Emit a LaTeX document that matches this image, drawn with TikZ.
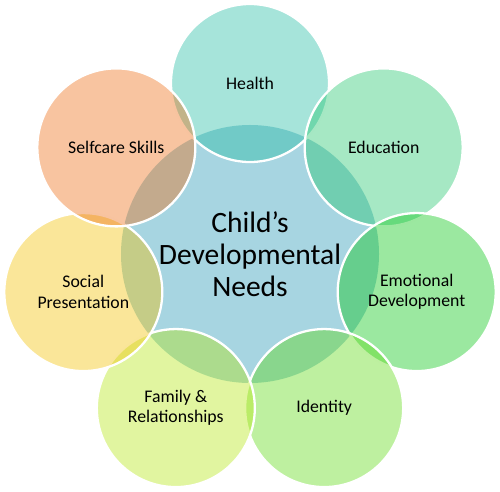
\documentclass[tikz,border=0pt]{standalone}
\usepackage{fontspec}
\setmainfont{Carlito}
\usetikzlibrary{positioning}

\definecolor{needblue}{RGB}{167,213,225}
\definecolor{healthc}{RGB}{32,187,162}
\definecolor{educc}{RGB}{32,197,107}
\definecolor{emoc}{RGB}{5,197,17}
\definecolor{identc}{RGB}{92,217,17}
\definecolor{famc}{RGB}{180,230,17}
\definecolor{socc}{RGB}{242,192,0}
\definecolor{selfc}{RGB}{237,107,17}

\tikzset{
  needs/.style={circle, minimum size=3.16cm, inner sep=0pt, draw=white, line width=1.3pt,
    fill opacity=0.4, text opacity=1, align=center, font=\fontsize{10.1}{11.6}\selectfont},
  hub/.style={circle, minimum size=5.16cm, inner sep=0pt, fill=needblue, align=center,
    font=\fontsize{16.8}{18.3}\selectfont}
}

\begin{document}
\begin{tikzpicture}
			%%%%% START %%%%%
			\useasboundingbox (-5, -4.74) rectangle (5, 5.08);
			
			\node[hub] (child) at (0, 0) {Child’s\\Developmental\\Needs};
			
			\node[needs, fill=healthc] (health) at (90:3.42) {Health};
			\node[needs, fill=educc] (education) at (38.57:3.42) {Education};
			\node[needs, fill=emoc] (emotional) at (-12.86:3.42) {Emotional\\Development};
			\node[needs, fill=identc] (identity) at (-64.29:3.42) {Identity};
			\node[needs, fill=famc] (family) at (-115.71:3.42) {Family \&\\Relationships};
			\node[needs, fill=socc] (social) at (-167.14:3.42) {Social\\Presentation};
			\node[needs, fill=selfc] (selfcare) at (141.43:3.42) {Selfcare Skills};
			
			%%%%% END %%%%%
\end{tikzpicture}
\end{document}
